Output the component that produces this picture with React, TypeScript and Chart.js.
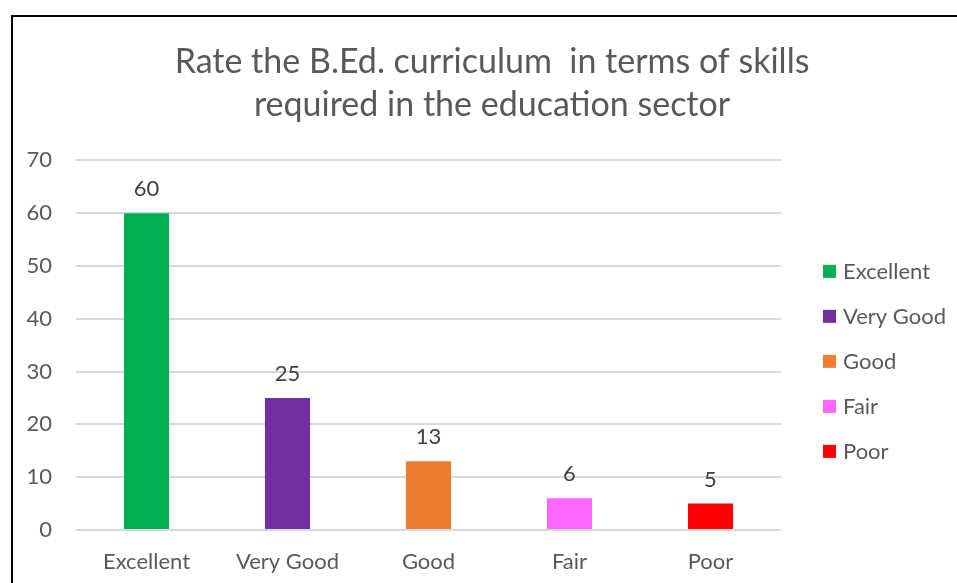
import React, { useEffect, useRef } from "react";
import { Chart, registerables } from "chart.js";

Chart.register(...registerables);

const TITLE_LINES = [
  "Rate the B.Ed. curriculum  in terms of skills",
  "required in the education sector",
];
const CATEGORIES = ["Excellent", "Very Good", "Good", "Fair", "Poor"];
const VALUES = [60, 25, 13, 6, 5];
const BAR_COLORS = ["#00B050", "#7030A0", "#ED7D31", "#FF66FF", "#FF0000"];
const Y_MIN = 0;
const Y_MAX = 70;
const Y_STEP = 10;

const FONT = "Lato, 'Open Sans', sans-serif";
const TEXT_COLOR = "#595959";
const LABEL_COLOR = "#404040";
const GRID_COLOR = "#D9D9D9";

const CANVAS_W = 958;
const CANVAS_H = 566;

const dataLabelPlugin = {
  id: "dataLabels",
  afterDatasetsDraw(chart: any) {
    const ctx = chart.ctx;
    const meta = chart.getDatasetMeta(0);
    const values = chart.data.datasets[0].data;
    ctx.save();
    ctx.font = `22px ${FONT}`;
    ctx.fillStyle = LABEL_COLOR;
    ctx.textAlign = "center";
    ctx.textBaseline = "alphabetic";
    meta.data.forEach((bar: any, i: number) => {
      ctx.fillText(String(values[i]), bar.x, bar.y - 17);
    });
    ctx.restore();
  },
};

const sideLegendPlugin = {
  id: "sideLegend",
  afterDraw(chart: any) {
    const ctx = chart.ctx;
    const area = chart.chartArea;
    const labels = chart.data.labels;
    const colors = chart.data.datasets[0].backgroundColor;
    const x0 = area.right + 42;
    const y0 = area.top + 111;
    const step = 45;
    ctx.save();
    ctx.font = `22px ${FONT}`;
    ctx.textAlign = "left";
    ctx.textBaseline = "middle";
    labels.forEach((label: string, i: number) => {
      const cy = y0 + i * step;
      ctx.fillStyle = colors[i];
      ctx.fillRect(x0, cy - 6.5, 13, 13);
      ctx.fillStyle = TEXT_COLOR;
      ctx.fillText(label, x0 + 20, cy + 1);
    });
    ctx.restore();
  },
};

function BarChart() {
  const ref = useRef<HTMLCanvasElement | null>(null);
  useEffect(() => {
    if (!ref.current) return;
    const chart = new Chart(ref.current, {
      type: "bar",
      data: {
        labels: CATEGORIES,
        datasets: [
          {
            label: "Rating",
            data: VALUES,
            backgroundColor: BAR_COLORS,
            borderWidth: 0,
            barPercentage: 0.32,
            categoryPercentage: 1,
          },
        ],
      },
      options: {
        animation: false,
        responsive: false,
        devicePixelRatio: 1,
        layout: { padding: 0 },
        plugins: {
          legend: { display: false },
          tooltip: { enabled: false },
          title: {
            display: true,
            text: TITLE_LINES,
            color: TEXT_COLOR,
            font: { family: FONT, size: 34, weight: "normal", lineHeight: 1.27 },
            padding: { top: 23, bottom: 34 },
          },
        },
        scales: {
          x: {
            grid: { display: false },
            border: { display: false },
            ticks: {
              color: TEXT_COLOR,
              font: { family: FONT, size: 22 },
              padding: 11,
              maxRotation: 0,
            },
            afterFit(scale: any) {
              scale.height = 53;
            },
          },
          y: {
            min: Y_MIN,
            max: Y_MAX,
            grid: { color: GRID_COLOR, lineWidth: 2, drawTicks: false },
            border: { display: false },
            ticks: {
              stepSize: Y_STEP,
              color: TEXT_COLOR,
              font: { family: FONT, size: 22 },
              padding: 24,
            },
            afterFit(scale: any) {
              scale.width = 63;
            },
          },
          legendSpace: {
            type: "linear",
            position: "right",
            min: Y_MIN,
            max: Y_MAX,
            grid: { display: false },
            border: { display: false },
            ticks: { display: false },
            afterFit(scale: any) {
              scale.width = 190;
            },
          },
        },
      },
      plugins: [dataLabelPlugin, sideLegendPlugin],
    });
    return () => chart.destroy();
  }, []);
  return <canvas ref={ref} width={CANVAS_W} height={CANVAS_H} style={{ display: "block" }} />;
}

export default function App() {
  return (
    <div
      style={{
        position: "fixed",
        left: 0,
        top: 0,
        width: 957,
        height: 583,
        overflow: "hidden",
        background: "#ffffff",
      }}
    >
      <div
        style={{
          position: "absolute",
          left: 11,
          top: 15,
          width: CANVAS_W,
          height: CANVAS_H + 10,
          borderLeft: "2px solid #000",
          borderTop: "2px solid #000",
          background: "#ffffff",
        }}
      >
        <BarChart />
      </div>
    </div>
  );
}
